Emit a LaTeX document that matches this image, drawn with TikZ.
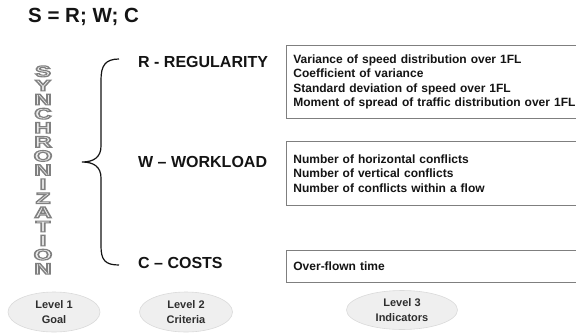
\documentclass[tikz,border=0pt]{standalone}
\usepackage{fontspec}
\setmainfont{Liberation Sans}
\usetikzlibrary{positioning,shapes.geometric}
\definecolor{ink}{HTML}{141414}
\definecolor{frame}{HTML}{7F7F7F}
\definecolor{ovalfill}{HTML}{EFEFEF}
\definecolor{ovalline}{HTML}{DADADA}
\definecolor{ovaltext}{HTML}{2E2E2E}
% outlined letters of the vertical word
\newcommand{\hollow}[1]{\scalebox{1.55}[1]{\special{pdf:literal direct q 2 Tr 1.1 w 0.5 G 0.93 g}#1\special{pdf:literal direct Q}}}
\tikzset{
  crit/.style={font=\bfseries\fontsize{16}{18}\selectfont, text=ink, inner sep=0pt, anchor=west},
  indbox/.style={draw=frame, line width=0.8pt, anchor=north west, align=left, text width=300pt,
    inner xsep=7pt, inner ysep=0pt, text=ink, font=\bfseries\fontsize{12}{14.5}\selectfont},
  letter/.style={font=\bfseries\fontsize{15.5}{15.5}\selectfont, inner sep=0pt, text height=11.5pt, text depth=0pt},
  oval/.style={ellipse, draw=ovalline, fill=ovalfill, line width=0.6pt, text=ovaltext, align=center,
    inner sep=0pt, font=\bfseries\fontsize{11}{15}\selectfont},
  brace/.style={draw=ink, line width=1.2pt}
}
\begin{document}
\begin{tikzpicture}[x=1pt, y=-1pt]
  \useasboundingbox[fill=white] (0,0) rectangle (576,333);

  \node[crit, font=\bfseries\fontsize{20.5}{22}\selectfont] (title) at (28,17) {S = R; W; C};

  % vertical word
  \node[letter] (l1) at (43,65) [anchor=north] {\hollow{S}};
  \node[letter, below=2.2pt of l1] (l2) {\hollow{Y}};
  \node[letter, below=2.2pt of l2] (l3) {\hollow{N}};
  \node[letter, below=2.2pt of l3] (l4) {\hollow{C}};
  \node[letter, below=2.2pt of l4] (l5) {\hollow{H}};
  \node[letter, below=2.2pt of l5] (l6) {\hollow{R}};
  \node[letter, below=2.2pt of l6] (l7) {\hollow{O}};
  \node[letter, below=2.2pt of l7] (l8) {\hollow{N}};
  \node[letter, below=2.2pt of l8] (l9) {\hollow{I}};
  \node[letter, below=2.2pt of l9] (l10) {\hollow{Z}};
  \node[letter, below=2.2pt of l10] (l11) {\hollow{A}};
  \node[letter, below=2.2pt of l11] (l12) {\hollow{T}};
  \node[letter, below=2.2pt of l12] (l13) {\hollow{I}};
  \node[letter, below=2.2pt of l13] (l14) {\hollow{O}};
  \node[letter, below=2.2pt of l14] (l15) {\hollow{N}};

  % brace
  \coordinate (btop) at (119,59);
  \coordinate (bmid) at (82,162);
  \coordinate (bbot) at (119,265);
  \draw[brace] (btop) .. controls (105,59) and (101,66) .. (101,80) -- (101,146)
    .. controls (101,157) and (94,162) .. (bmid)
    .. controls (94,162) and (101,167) .. (101,178) -- (101,246)
    .. controls (101,260) and (105,265) .. (bbot);

  \node[crit] (reg) at (138,62) {R - REGULARITY};
  \node[crit] (work) at (138,162) {W -- WORKLOAD};
  \node[crit] (cost) at (138,263) {C -- COSTS};

  \node[indbox, minimum height=73pt] (regbox) at (286,45) {Variance of speed distribution over 1FL\\
    Coefficient of variance\\ Standard deviation of speed over 1FL\\
    Moment of spread of traffic distribution over 1FL};
  \node[indbox, minimum height=64pt] (workbox) at (286,141) {Number of horizontal conflicts\\
    Number of vertical conflicts\\ Number of conflicts within a flow};
  \node[indbox, minimum height=32pt] (costbox) at (286,250) {Over-flown time};

  \node[oval, minimum width=92pt, minimum height=40pt] (lvl1) at (54,312) {Level 1\\Goal};
  \node[oval, minimum width=93pt, minimum height=40pt] (lvl2) at (186,312) {Level 2\\Criteria};
  \node[oval, minimum width=111pt, minimum height=39pt] (lvl3) at (402,310) {Level 3\\Indicators};
\end{tikzpicture}
\end{document}
